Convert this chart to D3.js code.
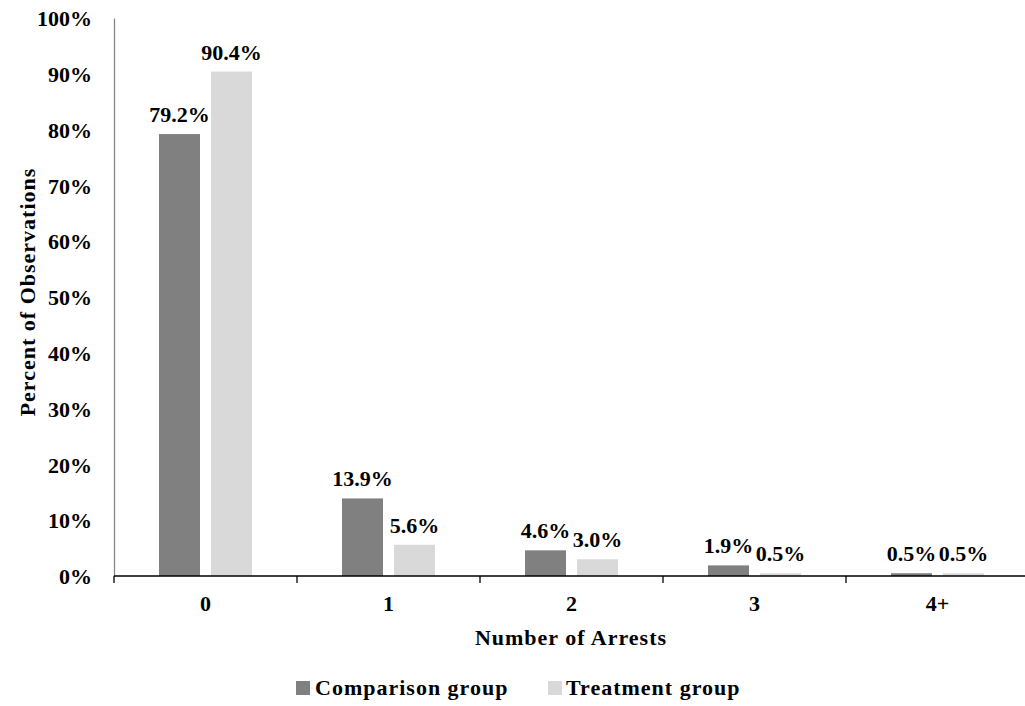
<!DOCTYPE html>
<html>
<head>
<meta charset="utf-8">
<script src="https://cdn.jsdelivr.net/npm/d3@7"></script>
<style>
  html, body { margin: 0; padding: 0; background: #fff; }
  svg { display: block; }
  text { font-family: "Liberation Serif", "Times New Roman", serif; font-weight: bold; fill: #000; }
  .title { letter-spacing: 1px; }
</style>
</head>
<body>
<svg id="chart" width="1025" height="706"></svg>
<script>
// Share of observations by number of arrests
const categories = ["0", "1", "2", "3", "4+"];
const seriesNames = ["Comparison group", "Treatment group"];
const comparison = [79.2, 13.9, 4.6, 1.9, 0.5];
const treatment = [90.4, 5.6, 3.0, 0.5, 0.5];
const yTicks = [0, 10, 20, 30, 40, 50, 60, 70, 80, 90, 100];
const colors = ["#808080", "#d9d9d9"];

const svg = d3.select("#chart");
const plotLeft = 114, plotRight = 1029, plotTop = 18, plotBottom = 576;
const fontSize = 22;

const x = d3.scaleBand().domain(categories).range([plotLeft, plotRight]).padding(0);
const y = d3.scaleLinear().domain([0, 100]).range([plotBottom, plotTop]);

const barW = 41, innerGap = 11;
const groupW = barW * 2 + innerGap;
const series = [comparison, treatment];
const barX = (i, s) => x(categories[i]) + x.bandwidth() / 2 - groupW / 2 + s * (barW + innerGap);

// bars and value labels
series.forEach((vals, s) => {
  const g = svg.append("g");
  g.selectAll("rect")
    .data(vals)
    .join("rect")
    .attr("x", (d, i) => barX(i, s))
    .attr("y", d => y(d))
    .attr("width", barW)
    .attr("height", d => plotBottom - y(d))
    .attr("fill", colors[s]);
  g.selectAll("text")
    .data(vals)
    .join("text")
    .attr("x", (d, i) => barX(i, s) + barW / 2)
    .attr("y", d => y(d) - 12)
    .attr("text-anchor", "middle")
    .attr("font-size", fontSize)
    .text(d => d.toFixed(1) + "%");
});

// y axis
const yAxis = svg.append("g")
  .attr("transform", `translate(${plotLeft},0)`)
  .call(d3.axisLeft(y).tickValues(yTicks).tickSize(0).tickPadding(22).tickFormat(d => d + "%"));
yAxis.select(".domain").attr("stroke", "#868686").attr("stroke-width", 1.3);
yAxis.selectAll("text").attr("font-size", fontSize).attr("font-family", null).attr("dy", "0.35em");

// x axis with boundary ticks between categories
const xAxisG = svg.append("g").attr("transform", `translate(0,${plotBottom})`);
xAxisG.append("line")
  .attr("x1", plotLeft).attr("x2", plotRight)
  .attr("stroke", "#000").attr("stroke-width", 1.3);
const bounds = categories.map(c => x(c)).concat([plotRight]);
xAxisG.selectAll("line.tick")
  .data(bounds)
  .join("line")
  .attr("class", "tick")
  .attr("x1", d => d).attr("x2", d => d)
  .attr("y1", 0).attr("y2", 7)
  .attr("stroke", "#000").attr("stroke-width", 1.3);
xAxisG.selectAll("text")
  .data(categories)
  .join("text")
  .attr("x", d => x(d) + x.bandwidth() / 2)
  .attr("y", 35)
  .attr("text-anchor", "middle")
  .attr("font-size", fontSize)
  .text(d => d);

// axis titles
svg.append("text")
  .attr("class", "title")
  .attr("x", 571).attr("y", 645)
  .attr("text-anchor", "middle")
  .attr("font-size", fontSize)
  .text("Number of Arrests");
svg.append("text")
  .attr("class", "title")
  .attr("transform", "translate(35,292) rotate(-90)")
  .attr("text-anchor", "middle")
  .attr("font-size", fontSize)
  .text("Percent of Observations");

// legend
const legendPos = [{x: 296, tx: 315}, {x: 548, tx: 566}];
seriesNames.forEach((name, i) => {
  svg.append("rect")
    .attr("x", legendPos[i].x).attr("y", 681)
    .attr("width", 14).attr("height", 14)
    .attr("fill", colors[i]);
  svg.append("text")
    .attr("class", "title")
    .attr("x", legendPos[i].tx).attr("y", 695)
    .attr("font-size", fontSize)
    .text(name);
});
</script>
</body>
</html>
